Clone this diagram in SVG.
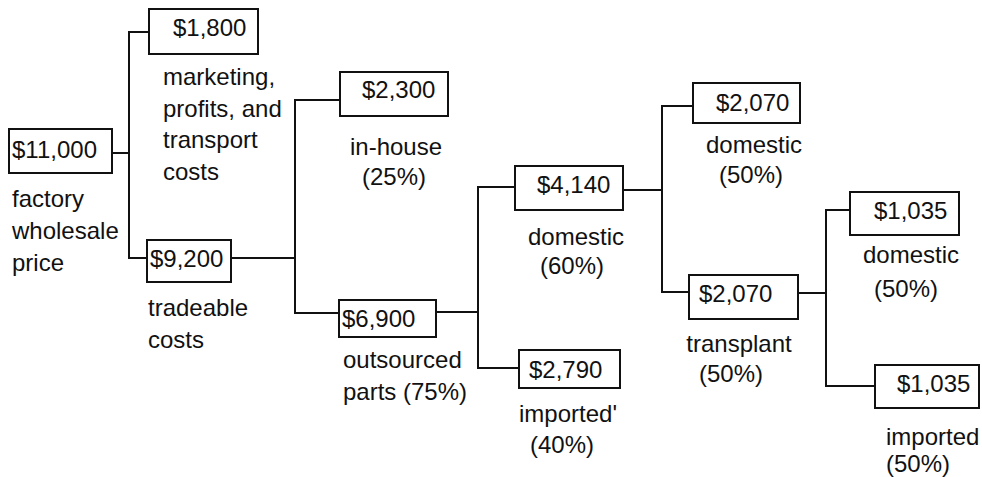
<svg xmlns="http://www.w3.org/2000/svg" width="982" height="477" viewBox="0 0 982 477">
<style>
.box{fill:#fff;stroke:#111;stroke-width:2}
.ln{fill:none;stroke:#111;stroke-width:2}
text{font-family:"Liberation Sans",Arial,sans-serif;font-size:24px;fill:#111}
</style>
<rect width="982" height="477" fill="#fff"/>
<g id="connectors">
<polyline class="ln" points="112,153 129,153"/>
<polyline class="ln" points="149,32 129,32 129,258 147,258"/>
<polyline class="ln" points="231,258 295,258"/>
<polyline class="ln" points="340,100 295,100 295,313 339,313"/>
<polyline class="ln" points="436,312 478,312"/>
<polyline class="ln" points="515,187 478,187 478,368 519,368"/>
<polyline class="ln" points="623,190 662,190"/>
<polyline class="ln" points="693,106 662,106 662,292 689,292"/>
<polyline class="ln" points="798,293 826,293"/>
<polyline class="ln" points="850,210 826,210 826,386 875,386"/>
</g>
<g id="n11000">
<rect class="box" x="9" y="129" width="103" height="44"/>
<text x="12" y="158">$11,000</text>
<text x="12" y="207">factory</text>
<text x="12" y="239">wholesale</text>
<text x="12" y="271">price</text>
</g>
<g id="n1800">
<rect class="box" x="149" y="9" width="109" height="45"/>
<text x="173" y="36">$1,800</text>
<text x="163" y="85">marketing,</text>
<text x="163" y="117">profits, and</text>
<text x="163" y="148">transport</text>
<text x="163" y="180">costs</text>
</g>
<g id="n9200">
<rect class="box" x="147" y="240" width="84" height="42"/>
<text x="150" y="267">$9,200</text>
<text x="148" y="316">tradeable</text>
<text x="148" y="348">costs</text>
</g>
<g id="n2300">
<rect class="box" x="340" y="72" width="108" height="44"/>
<text x="362" y="98">$2,300</text>
<text x="396" y="155" text-anchor="middle">in-house</text>
<text x="394" y="185" text-anchor="middle">(25%)</text>
</g>
<g id="n6900">
<rect class="box" x="339" y="300" width="97" height="37"/>
<text x="342" y="327">$6,900</text>
<text x="343" y="368">outsourced</text>
<text x="343" y="400">parts (75%)</text>
</g>
<g id="n4140">
<rect class="box" x="515" y="166" width="108" height="44"/>
<text x="537" y="193">$4,140</text>
<text x="576" y="245" text-anchor="middle">domestic</text>
<text x="572" y="274" text-anchor="middle">(60%)</text>
</g>
<g id="n2790">
<rect class="box" x="519" y="350" width="101" height="38"/>
<text x="529" y="378">$2,790</text>
<text x="519" y="422">imported'</text>
<text x="562" y="453" text-anchor="middle">(40%)</text>
</g>
<g id="n2070a">
<rect class="box" x="693" y="83" width="107" height="40"/>
<text x="716" y="111">$2,070</text>
<text x="754" y="153" text-anchor="middle">domestic</text>
<text x="751" y="183" text-anchor="middle">(50%)</text>
</g>
<g id="n2070b">
<rect class="box" x="689" y="275" width="109" height="44"/>
<text x="699" y="302">$2,070</text>
<text x="739" y="352" text-anchor="middle">transplant</text>
<text x="731" y="382" text-anchor="middle">(50%)</text>
</g>
<g id="n1035a">
<rect class="box" x="850" y="192" width="109" height="43"/>
<text x="874" y="219">$1,035</text>
<text x="911" y="263" text-anchor="middle">domestic</text>
<text x="906" y="297" text-anchor="middle">(50%)</text>
</g>
<g id="n1035b">
<rect class="box" x="875" y="365" width="104" height="43"/>
<text x="897" y="392">$1,035</text>
<text x="886" y="445">imported</text>
<text x="886" y="472">(50%)</text>
</g>
</svg>
